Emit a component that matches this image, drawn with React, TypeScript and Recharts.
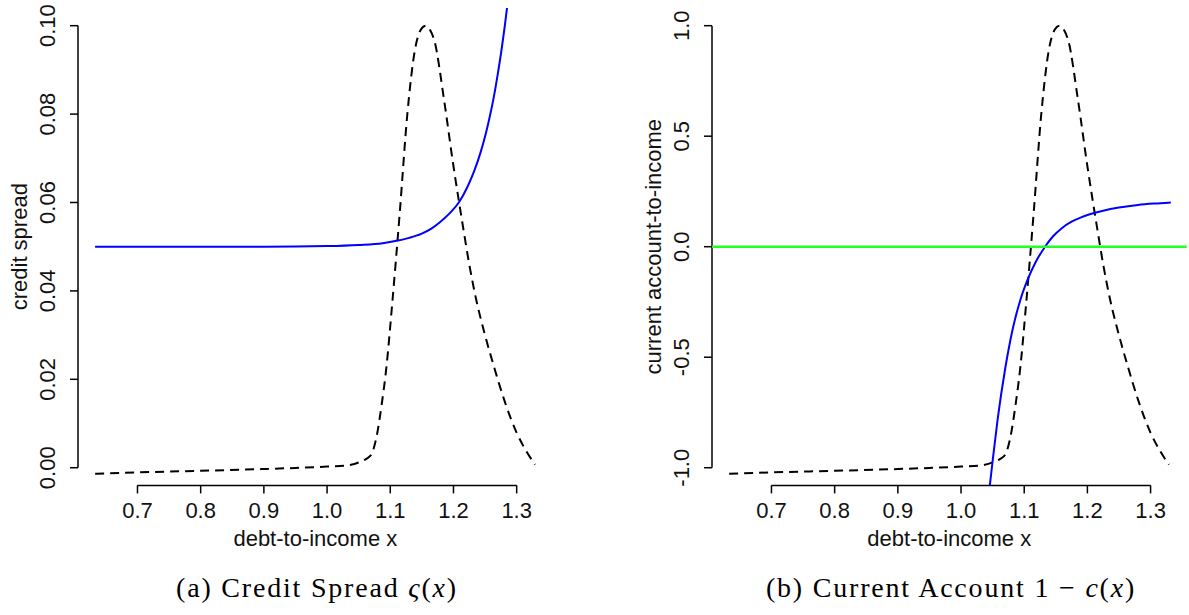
import * as React from 'react';
import { LineChart, Line, XAxis, YAxis, Label, ReferenceLine } from 'recharts';

// values
const xTicks = [0.7, 0.8, 0.9, 1.0, 1.1, 1.2, 1.3];
const spreadTicks = [0, 0.02, 0.04, 0.06, 0.08, 0.1];
const accountTicks = [-1, -0.5, 0, 0.5, 1];

// density of x (dashed), scaled onto each panel's y axis
const densityX = [0.633, 0.7, 0.8, 0.9, 0.95, 1.0, 1.03, 1.05, 1.062, 1.07, 1.078, 1.086, 1.094, 1.103, 1.115, 1.127, 1.139, 1.148, 1.156, 1.163, 1.17, 1.185, 1.2, 1.215, 1.225, 1.236, 1.249, 1.264, 1.282, 1.3, 1.315, 1.329];
const densityA = [-0.00135, -0.00105, -0.0007, -0.0003, -0.00005, 0.00025, 0.0005, 0.0012, 0.002, 0.003, 0.0068, 0.0139, 0.0229, 0.037, 0.0577, 0.08, 0.0945, 0.099, 0.1, 0.099, 0.0965, 0.0833, 0.0682, 0.0546, 0.046, 0.038, 0.0305, 0.0229, 0.0146, 0.0079, 0.0038, 0.0007];
const densityB = [-1.027, -1.021, -1.014, -1.006, -1.001, -0.995, -0.99, -0.976, -0.96, -0.94, -0.864, -0.722, -0.542, -0.26, 0.154, 0.6, 0.89, 0.98, 1.0, 0.98, 0.93, 0.666, 0.364, 0.092, -0.08, -0.24, -0.39, -0.542, -0.708, -0.842, -0.924, -0.986];

// credit spread
const spreadX = [0.633, 0.9, 1.0, 1.05, 1.088, 1.112, 1.13, 1.149, 1.165, 1.179, 1.195, 1.209, 1.222, 1.233, 1.243, 1.251, 1.258, 1.264, 1.27, 1.276, 1.281, 1.287];
const spreadY = [0.05, 0.05, 0.05015, 0.0504, 0.0508, 0.0514, 0.052, 0.0529, 0.0541, 0.0556, 0.0577, 0.0601, 0.0635, 0.0672, 0.0714, 0.0755, 0.0798, 0.084, 0.089, 0.0945, 0.0997, 0.1067];

// current account 1 - c(x)
const accountX = [1.044, 1.05, 1.058, 1.07, 1.082, 1.094, 1.106, 1.118, 1.133, 1.145, 1.16, 1.175, 1.19, 1.205, 1.225, 1.25, 1.28, 1.31, 1.332];
const accountY = [-1.12, -0.97, -0.78, -0.55, -0.37, -0.24, -0.145, -0.07, 0.0, 0.045, 0.085, 0.113, 0.133, 0.148, 0.163, 0.177, 0.189, 0.196, 0.2];

const zip = (xs: number[], ys: number[]) => xs.map((x, i) => ({ x, y: ys[i] }));

const SANS = '"Liberation Sans", Arial, Helvetica, sans-serif';
const SERIF = '"Liberation Serif", "Times New Roman", serif';
const INK = '#111';

const xDomain: [number, number] = [0.6059, 1.357];

const XTick = (props: any) => {
	const { x, y, payload } = props;
	return (
		<text x={x} y={y + 25} textAnchor="middle" fontFamily={SANS} fontSize={22} fill={INK}>
			{payload.value.toFixed(1)}
		</text>
	);
};

const makeYTick = (digits: number) => (props: any) => {
	const { x, y, payload } = props;
	const bx = x - 15;
	return (
		<text x={bx} y={y} transform={`rotate(-90 ${bx} ${y})`} textAnchor="middle" fontFamily={SANS} fontSize={22} fill={INK}>
			{payload.value.toFixed(digits)}
		</text>
	);
};

const YTitle = (props: any) => {
	const { viewBox, text } = props;
	const cx = viewBox.x + viewBox.width - 51;
	const cy = viewBox.y + viewBox.height / 2;
	return (
		<text x={cx} y={cy} transform={`rotate(-90 ${cx} ${cy})`} textAnchor="middle" fontFamily={SANS} fontSize={22} fill={INK}>
			{text}
		</text>
	);
};

const XTitle = (props: any) => {
	const { viewBox } = props;
	return (
		<text x={viewBox.x + viewBox.width / 2} y={viewBox.y + 61} textAnchor="middle" fontFamily={SANS} fontSize={22} fill={INK}>
			debt-to-income x
		</text>
	);
};

interface PanelProps {
	left: number;
	width: number;
	rightMargin: number;
	yDomain: [number, number];
	yTicks: number[];
	digits: number;
	title: string;
	density: { x: number; y: number }[];
	curve: { x: number; y: number }[];
	zeroLine?: boolean;
}

const Panel = (p: PanelProps) => {
	const axisStyle = { stroke: '#000', strokeWidth: 1.5 };
	return (
		<div style={{ position: 'absolute', left: p.left, top: 0 }}>
			<LineChart width={p.width} height={615} margin={{ top: 8, right: p.rightMargin, bottom: 0, left: 0 }}>
				<XAxis
					type="number"
					dataKey="x"
					domain={xDomain}
					allowDataOverflow
					ticks={xTicks}
					interval={0}
					axisLine={false}
					tickLine={axisStyle}
					tickSize={8}
					tickMargin={0}
					height={129.6}
					tick={<XTick />}
				>
					<Label content={<XTitle />} />
				</XAxis>
				<YAxis
					type="number"
					dataKey="y"
					domain={p.yDomain}
					allowDataOverflow
					ticks={p.yTicks}
					interval={0}
					axisLine={false}
					tickLine={axisStyle}
					tickSize={8}
					tickMargin={0}
					width={78}
					tick={makeYTick(p.digits)}
				>
					<Label content={<YTitle text={p.title} />} />
				</YAxis>
				<ReferenceLine segment={[{ x: 0.7, y: p.yDomain[0] }, { x: 1.3, y: p.yDomain[0] }]} stroke="#000" strokeWidth={1.5} />
				<ReferenceLine segment={[{ x: xDomain[0], y: p.yTicks[0] }, { x: xDomain[0], y: p.yTicks[p.yTicks.length - 1] }]} stroke="#000" strokeWidth={1.5} />
				<Line data={p.density} dataKey="y" type="monotone" stroke="#000" strokeWidth={2} strokeDasharray="9 6" dot={false} isAnimationActive={false} />
				<Line data={p.curve} dataKey="y" type="monotone" stroke="#0000ff" strokeWidth={2} dot={false} isAnimationActive={false} />
				{p.zeroLine && <ReferenceLine y={0} stroke="#22ff22" strokeWidth={2.5} />}
			</LineChart>
		</div>
	);
};

export default function App() {
	return (
		<div style={{ position: 'absolute', left: 0, top: 0, width: 1189, height: 615, background: '#fff', overflow: 'hidden' }}>
			<svg width={1189} height={615} style={{ position: 'absolute', left: 0, top: 0 }}>
				<text x={317} y={597} textAnchor="middle" fontFamily={SERIF} fontSize={28} letterSpacing={1.8} fill="#000">
					(a) Credit Spread <tspan fontStyle="italic">ς</tspan>(<tspan fontStyle="italic">x</tspan>)
				</text>
				<text x={951} y={597} textAnchor="middle" fontFamily={SERIF} fontSize={28} letterSpacing={1.8} fill="#000">
					(b) Current Account 1 − <tspan fontStyle="italic">c</tspan>(<tspan fontStyle="italic">x</tspan>)
				</text>
			</svg>
			<Panel
				left={0.4}
				width={600}
				rightMargin={47.3}
				yDomain={[-0.004, 0.104]}
				yTicks={spreadTicks}
				digits={2}
				title="credit spread"
				density={zip(densityX, densityA)}
				curve={zip(spreadX, spreadY)}
			/>
			<Panel
				left={634}
				width={555}
				rightMargin={2.4}
				yDomain={[-1.08, 1.08]}
				yTicks={accountTicks}
				digits={1}
				title="current account-to-income"
				density={zip(densityX, densityB)}
				curve={zip(accountX, accountY)}
				zeroLine
			/>
		</div>
	);
}
